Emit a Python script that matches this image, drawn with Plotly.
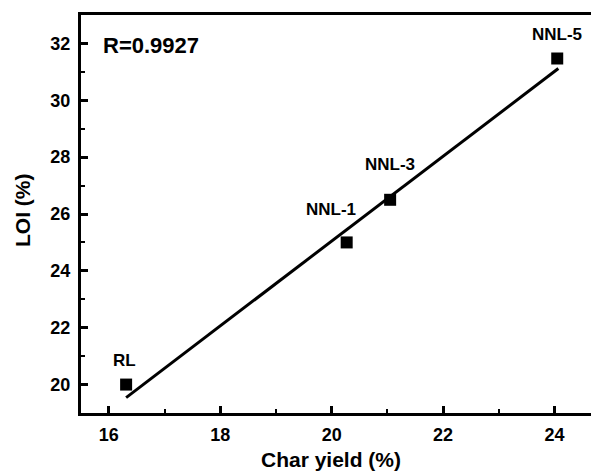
import plotly.graph_objects as go

# Data
sample_names = ["RL", "NNL-1", "NNL-3", "NNL-5"]
char_yield = [16.31, 20.27, 21.05, 24.05]
loi = [20.0, 25.0, 26.5, 31.47]

# Linear fit line endpoints
fit_x = [16.31, 24.07]
fit_y = [19.54, 31.12]
r_text = "R=0.9927"

x_ticks = [16, 18, 20, 22, 24]
y_ticks = [20, 22, 24, 26, 28, 30, 32]

FONT = "Liberation Sans, Arial, sans-serif"

fig = go.Figure()
fig.add_trace(go.Scatter(
    x=fit_x, y=fit_y, mode="lines",
    line=dict(color="black", width=3), showlegend=False, hoverinfo="skip"))
fig.add_trace(go.Scatter(
    x=char_yield, y=loi, mode="markers",
    marker=dict(symbol="square", size=12, color="black"),
    showlegend=False))

# label offsets (pixels) for each point label
label_shift = {"RL": (-2, 24), "NNL-1": (-16, 33), "NNL-3": (0, 35), "NNL-5": (0, 24)}
for name, xv, yv in zip(sample_names, char_yield, loi):
    dx, dy = label_shift[name]
    fig.add_annotation(x=xv, y=yv, text=name, showarrow=False,
                       xshift=dx, yshift=dy, xanchor="center", yanchor="middle",
                       font=dict(family=FONT, size=17, color="black", weight="bold"))

fig.add_annotation(x=0.0386, y=0.923, xref="paper", yref="paper", text=r_text,
                   showarrow=False, xanchor="left", yanchor="middle",
                   font=dict(family=FONT, size=22, color="black", weight="bold"))

# axis titles as annotations for exact placement
fig.add_annotation(x=(331 - 81) / 518, y=-(459 - 413) / 398, xref="paper", yref="paper",
                   text="Char yield (%)", showarrow=False, xanchor="center", yanchor="middle",
                   font=dict(family=FONT, size=21, color="black", weight="bold"))
fig.add_annotation(x=-(81 - 23) / 518, y=(413 - 210) / 398, xref="paper", yref="paper",
                   text="LOI (%)", showarrow=False, textangle=-90,
                   xanchor="center", yanchor="middle",
                   font=dict(family=FONT, size=21, color="black", weight="bold"))

axis_common = dict(
    showgrid=False, zeroline=False,
    showline=True, linecolor="black", linewidth=3,
    ticks="inside", ticklen=7, tickwidth=2.5, tickcolor="black",
    tickfont=dict(family=FONT, size=18, color="black", weight="bold"),
    minor=dict(ticks="inside", ticklen=4, tickwidth=2, tickcolor="black", dtick=1),
)

fig.update_xaxes(range=[15.5, 24.8], tickvals=x_ticks, mirror=True,
                 ticklabelstandoff=3, **axis_common)
fig.update_yaxes(range=[19, 33], tickvals=y_ticks, mirror=False,
                 ticklabelstandoff=4, **axis_common)

# the page body adds an 8px offset; size/margins compensate for it
fig.update_layout(
    width=591, height=468,
    margin=dict(l=73, r=0, t=7, b=63),
    plot_bgcolor="white", paper_bgcolor="white",
)

fig.write_html("out.html")
